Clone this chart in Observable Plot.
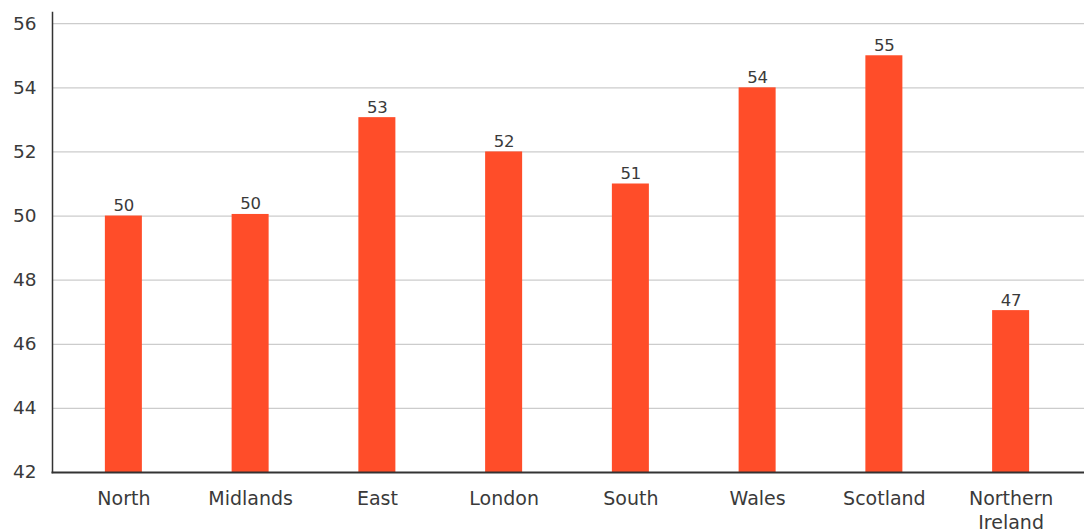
<!DOCTYPE html>
<html>
<head>
<meta charset="utf-8">
<script src="https://cdn.jsdelivr.net/npm/d3@7"></script>
<script src="https://cdn.jsdelivr.net/npm/@observablehq/plot@0.6"></script>
<style>
  html, body { margin: 0; padding: 0; background: #fff; }
  svg { display: block; }
</style>
</head>
<body>
<div id="chart"></div>
<script>
const regions = ["North", "Midlands", "East", "London", "South", "Wales", "Scotland", "Northern Ireland"];
const values = [50, 50.05, 53.07, 52, 51, 54, 55, 47.05];
const labels = ["50", "50", "53", "52", "51", "54", "55", "47"];
const yTicks = [42, 44, 46, 48, 50, 52, 54, 56];

const data = regions.map((r, i) => ({region: r, value: values[i], label: labels[i]}));

const chart = Plot.plot({
  width: 1084,
  height: 529,
  marginLeft: 52,
  marginRight: 0,
  marginTop: 12,
  marginBottom: 57,
  style: {fontFamily: "'DejaVu Sans', sans-serif", color: "#3a3a3a", background: "#fff"},
  x: {domain: regions, range: [60, 1074], paddingInner: 0.708, paddingOuter: 0.354, round: false, label: null},
  y: {domain: [42, 56.35], label: null},
  marks: [
    Plot.ruleY(yTicks.slice(1), {stroke: "#cccccc", strokeWidth: 1.3}),
    Plot.barY(data, {x: "region", y1: 42, y2: "value", fill: "#ff4d29"}),
    Plot.text(data, {x: "region", y: "value", text: "label", dy: -5, lineAnchor: "bottom", fontSize: 16.5, fill: "#3a3a3a"}),
    Plot.axisY(yTicks, {tickSize: 0, tickPadding: 16, fontSize: 18.5, label: null, fill: "#3a3a3a"}),
    Plot.axisX({tickSize: 0, tickPadding: 16, fontSize: 19, label: null, lineHeight: 1.25, fill: "#3a3a3a",
      tickFormat: d => d === "Northern Ireland" ? "Northern\nIreland" : d}),
    Plot.frame({anchor: "left", stroke: "#333", strokeWidth: 1.5}),
    Plot.frame({anchor: "bottom", stroke: "#333", strokeWidth: 2})
  ]
});
document.getElementById("chart").append(chart);
</script>
</body>
</html>
